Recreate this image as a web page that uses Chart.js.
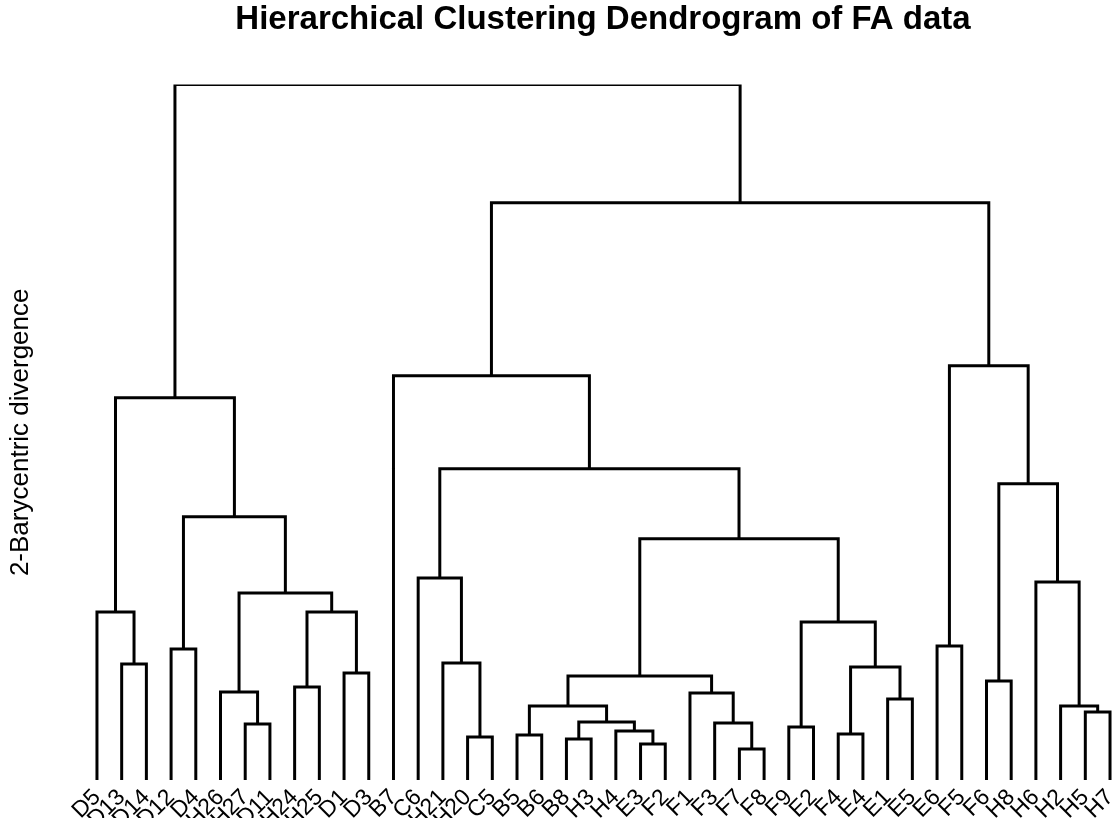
<!DOCTYPE html>
<html>
<head>
<meta charset="utf-8">
<title>Hierarchical Clustering Dendrogram of FA data</title>
<script src="https://cdn.jsdelivr.net/npm/chart.js@4"></script>
<style>
  html, body { margin: 0; padding: 0; background: #fff; }
  #wrap { position: relative; width: 1112px; height: 818px; overflow: hidden; }
</style>
</head>
<body>
<div id="wrap"><canvas id="dendro"></canvas></div>
<script>
// leaf order along the bottom
const leafLabels = [
  "D5", "D13", "D14", "D12", "D4", "H26", "H27", "D11", "H24", "H25", "D1", "D3",
  "B7", "C6", "H21", "H20", "C5", "B5", "B6", "B8", "H3", "H4", "E3", "F2",
  "F1", "F3", "F7", "F8", "F9", "E2", "F4", "E4", "E1", "E5", "E6", "F5",
  "F6", "H8", "H6", "H2", "H5", "H7"
];

// merges: a string is a leaf, a number points to an earlier merge
const mergeLeft = [
  "F7", "E3", "B8", "H20", "B5", "F4", "H4", "F9", "H27", "F3",
  2, "H5", 4, "H2", "E1", "F1", "H26", "H24", "F6", 12,
  "D1", 5, "D13", "H21", "D12", "E6", 7, 17, "D5", 16,
  "H6", "C6", 19, 24, 18, 31, 28, "B7", 25, 37, 36
];
const mergeRight = [
  "F8", "F2", "H3", "C5", "B6", "E4", 1, "E2", "D11", 0,
  6, "H7", 10, 11, "E5", 9, 8, "H25", "H8", 15,
  "D3", 14, "D14", 3, "D4", "F5", 21, 20, 22, 27,
  13, 23, 26, 29, 30, 32, 33, 35, 34, 38, 39
];
// merge heights (2-Barycentric divergence)
const mergeHeight = [
  0.31, 0.36, 0.41, 0.43, 0.45, 0.46, 0.49, 0.53, 0.56, 0.57,
  0.58, 0.68, 0.74, 0.74, 0.81, 0.87, 0.88, 0.93, 0.99, 1.04,
  1.07, 1.13, 1.16, 1.17, 1.31, 1.34, 1.58, 1.68, 1.68, 1.87,
  1.98, 2.02, 2.41, 2.63, 2.96, 3.11, 3.82, 4.04, 4.14, 5.77, 6.95
];

function nodePos(ref, placed) {
  if (typeof ref === "string") {
    return { x: leafLabels.indexOf(ref), y: 0 };
  }
  return placed[ref];
}

function buildDatasets() {
  const placed = [];
  const datasets = [];
  mergeHeight.forEach((h, i) => {
    const a = nodePos(mergeLeft[i], placed);
    const b = nodePos(mergeRight[i], placed);
    placed.push({ x: (a.x + b.x) / 2, y: h });
    datasets.push({
      data: [
        { x: a.x, y: a.y },
        { x: a.x, y: h },
        { x: b.x, y: h },
        { x: b.x, y: b.y },
      ],
      borderColor: "#000",
      borderWidth: 3,
      borderJoinStyle: "miter",
      borderCapStyle: "butt",
      pointRadius: 0,
      tension: 0,
      fill: false,
    });
  });
  return datasets;
}

const lastLeaf = leafLabels.length - 1;

new Chart(document.getElementById("dendro"), {
  type: "line",
  data: { datasets: buildDatasets() },
  options: {
    responsive: true,
    maintainAspectRatio: false,
    animation: false,
    layout: { padding: 0 },
    plugins: {
      legend: { display: false },
      tooltip: { enabled: false },
      title: {
        display: true,
        fullSize: false,
        text: "Hierarchical Clustering Dendrogram of FA data",
        color: "#000",
        font: { family: "'Liberation Sans', Arial, sans-serif", size: 33, weight: "bold" },
        padding: { top: 0, bottom: 45 },
      },
    },
    scales: {
      x: {
        type: "linear",
        min: -0.12,
        max: lastLeaf + 0.08,
        grid: { display: false, drawTicks: false },
        border: { display: false },
        afterBuildTicks: (axis) => {
          axis.ticks = leafLabels.map((_, i) => ({ value: i }));
        },
        afterFit: (axis) => {
          axis.height = 38;
          axis.paddingLeft = 0;
          axis.paddingRight = 0;
        },
        ticks: {
          autoSkip: false,
          minRotation: 45,
          maxRotation: 45,
          padding: 4,
          color: "#000",
          font: { family: "'Liberation Sans', Arial, sans-serif", size: 23 },
          callback: (value) => leafLabels[value],
        },
      },
      y: {
        min: 0,
        max: 6.95,
        grid: { display: false, drawTicks: false },
        border: { display: false },
        ticks: { display: false },
        afterFit: (axis) => { axis.width = 94; },
        title: {
          display: true,
          text: "2-Barycentric divergence",
          color: "#000",
          font: { family: "'Liberation Sans', Arial, sans-serif", size: 26 },
          padding: { top: 5, bottom: 0 },
        },
      },
    },
  },
});
</script>
</body>
</html>
